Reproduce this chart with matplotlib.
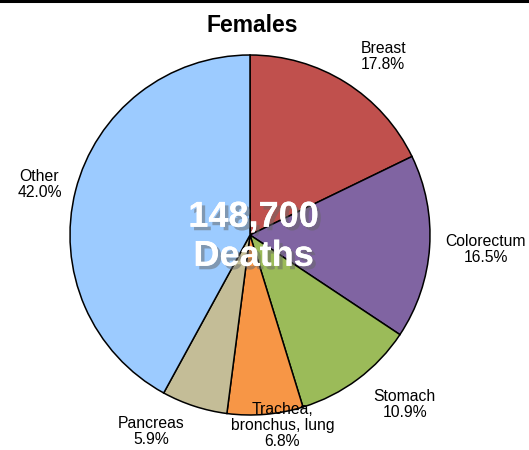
import matplotlib
matplotlib.use("Agg")
import numpy as np
import matplotlib.pyplot as plt
import matplotlib.patheffects as pe
from matplotlib.lines import Line2D

plt.rcParams['font.family'] = ['Liberation Sans', 'DejaVu Sans']

title = "Females"
labels = ["Breast", "Colorectum", "Stomach", "Trachea,\nbronchus, lung", "Pancreas", "Other"]
shares = [17.8, 16.5, 10.9, 6.8, 5.9, 42.0]
colors = ["#C0504D", "#8064A2", "#9BBB59", "#F79646", "#C4BD97", "#9CCBFF"]
center_text = "148,700\nDeaths"

# label placement, in pie radii from the centre
label_xy = [(0.74, 0.99), (1.31, -0.08), (0.86, -0.94), (0.18, -1.06), (-0.55, -1.09), (-1.17, 0.28)]

W, H = 529, 450
R = 180.0          # pie radius in pixels
cx, cy = 250, 215  # centre from left / from bottom

fig = plt.figure(figsize=(W / 100, H / 100), dpi=100)
ax = fig.add_axes([0, 0, 1, 1])

wedges, texts = ax.pie(shares, colors=colors, startangle=90, counterclock=False,
                       labels=[f"{l}\n{s:.1f}%" for l, s in zip(labels, shares)],
                       wedgeprops=dict(edgecolor="black", linewidth=1.1),
                       textprops=dict(fontsize=11.3, linespacing=1.1))

for t, xy in zip(texts, label_xy):
    t.set_position(xy)
    t.set_ha("center")
    t.set_va("center")

ax.set_xlim(-cx / R, (W - cx) / R)
ax.set_ylim(-cy / R, (H - cy) / R)
ax.axis("off")

ax.text(0.02, -0.01, center_text, ha="center", va="center", color="white",
        fontsize=26, fontweight="bold", linespacing=1.15,
        path_effects=[pe.withSimplePatchShadow(offset=(2.5, -2.5), shadow_rgbFace="#666666", alpha=0.5),
                      pe.Normal()])

fig.text(0.477, 1 - 26 / H, title, ha="center", va="center", fontsize=16.5, fontweight="bold")
fig.add_artist(Line2D([0, 1], [1 - 1 / H, 1 - 1 / H], color="black", linewidth=2.2,
                      transform=fig.transFigure))

fig.savefig("out.png", dpi=100)
